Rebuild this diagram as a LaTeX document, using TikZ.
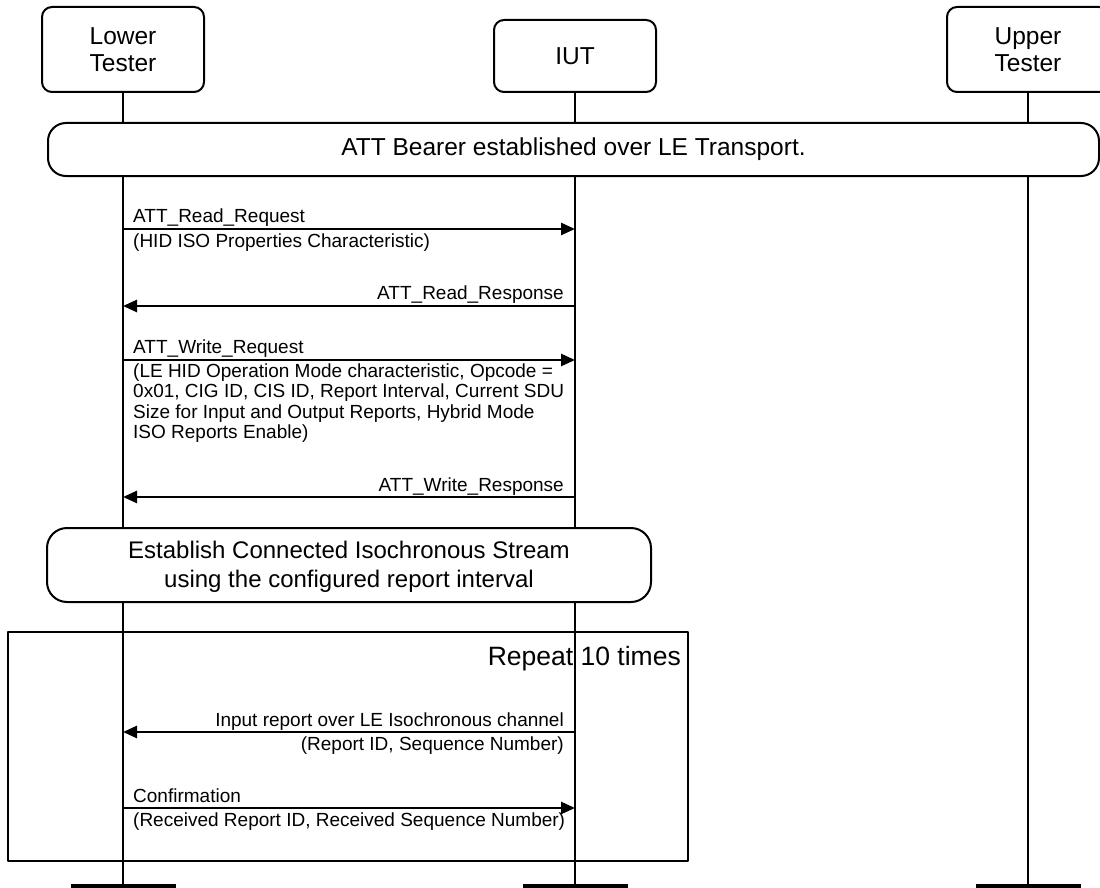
\documentclass[tikz,border=0pt]{standalone}
\usepackage{fontspec}
\setmainfont{Liberation Sans}
\usetikzlibrary{arrows.meta}
\newcommand{\bigtxt}{\fontsize{24.5}{27.5}\selectfont}
\newcommand{\midtxt}{\fontsize{24}{27}\selectfont}
\newcommand{\reptxt}{\fontsize{26.5}{29}\selectfont}
\newcommand{\msgtxt}{\fontsize{19}{21}\selectfont}
\begin{document}
\begin{tikzpicture}[x=1pt,y=-1pt,line join=round,
  hdr/.style={draw,line width=2pt,rounded corners=10pt,minimum width=162pt,align=center,font=\bigtxt,inner sep=0pt,fill=white},
  foot/.style={fill=black,minimum width=105pt,minimum height=4pt,inner sep=0pt},
  life/.style={line width=2pt},
  phase/.style={draw,fill=white,line width=2pt,align=center,font=\bigtxt,inner sep=0pt},
  msg/.style={line width=2.6pt,-{Triangle[length=14pt,width=12pt]}},
  lbl/.style={font=\msgtxt,inner sep=0pt},
  loopbox/.style={draw,line width=2pt,inner sep=0pt}]
\useasboundingbox (0,0) rectangle (1100,888);
% participants
\node[hdr,minimum height=85pt] (lt) at (123,49.5) {Lower\\Tester};
\node[hdr,minimum height=72pt] (iut) at (575,56) {IUT};
\node[hdr,minimum height=85pt] (ut) at (1028,49.5) {Upper\\Tester};
\node[foot] (ltf) at (123,886) {};
\node[foot] (iutf) at (575,886) {};
\node[foot] (utf) at (1028,886) {};
\draw[life] (lt.south) -- (ltf.north);
\draw[life] (iut.south) -- (iutf.north);
\draw[life] (ut.south) -- (utf.north);
% ATT bearer
\node[phase,rounded corners=18pt,minimum width=1051pt,minimum height=53pt] (att) at (573.5,149.5) {ATT Bearer established over LE Transport.};
% messages
\coordinate (l1) at (123,229); \coordinate (i1) at (575,229);
\draw[msg] (l1) -- (i1);
\node[lbl,anchor=base west] (t1a) at (133,222) {ATT\_Read\_Request};
\node[lbl,anchor=base west] (t1b) at (133,247) {(HID ISO Properties Characteristic)};
\coordinate (l2) at (123,306); \coordinate (i2) at (575,306);
\draw[msg] (i2) -- (l2);
\node[lbl,anchor=base east] (t2a) at (564,299) {ATT\_Read\_Response};
\coordinate (l3) at (123,360); \coordinate (i3) at (575,360);
\draw[msg] (l3) -- (i3);
\node[lbl,anchor=base west] (t3a) at (133,353) {ATT\_Write\_Request};
\node[lbl,anchor=base west] (t3b) at (133,377) {(LE HID Operation Mode characteristic, Opcode =};
\node[lbl,anchor=base west] (t3c) at (133,397.5) {0x01, CIG ID, CIS ID, Report Interval, Current SDU};
\node[lbl,anchor=base west] (t3d) at (133,418) {Size for Input and Output Reports, Hybrid Mode};
\node[lbl,anchor=base west] (t3e) at (133,438.5) {ISO Reports Enable)};
\coordinate (l4) at (123,497); \coordinate (i4) at (575,497);
\draw[msg] (i4) -- (l4);
\node[lbl,anchor=base east] (t4a) at (564,491) {ATT\_Write\_Response};
% CIS establishment
\node[phase,rounded corners=20pt,minimum width=604pt,minimum height=74pt] (cis) at (349,565) {};
\node[font=\midtxt,inner sep=0pt,anchor=base] (cisa) at (349,558) {Establish Connected Isochronous Stream};
\node[font=\midtxt,inner sep=0pt,anchor=base] (cisb) at (349,587) {using the configured report interval};
% loop
\node[loopbox,minimum width=680pt,minimum height=229pt] (rep) at (348,746.5) {};
\node[font=\reptxt,inner sep=0pt,anchor=base east] (rept) at (681,665) {Repeat 10 times};
\coordinate (l5) at (123,732); \coordinate (i5) at (575,732);
\draw[msg] (i5) -- (l5);
\node[lbl,anchor=base east] (t5a) at (564,726) {Input report over LE Isochronous channel};
\node[lbl,anchor=base east] (t5b) at (564,750) {(Report ID, Sequence Number)};
\coordinate (l6) at (123,808); \coordinate (i6) at (575,808);
\draw[msg] (l6) -- (i6);
\node[lbl,anchor=base west] (t6a) at (133,802) {Confirmation};
\node[lbl,anchor=base west] (t6b) at (133,826) {(Received Report ID, Received Sequence Number)};
\end{tikzpicture}
\end{document}
